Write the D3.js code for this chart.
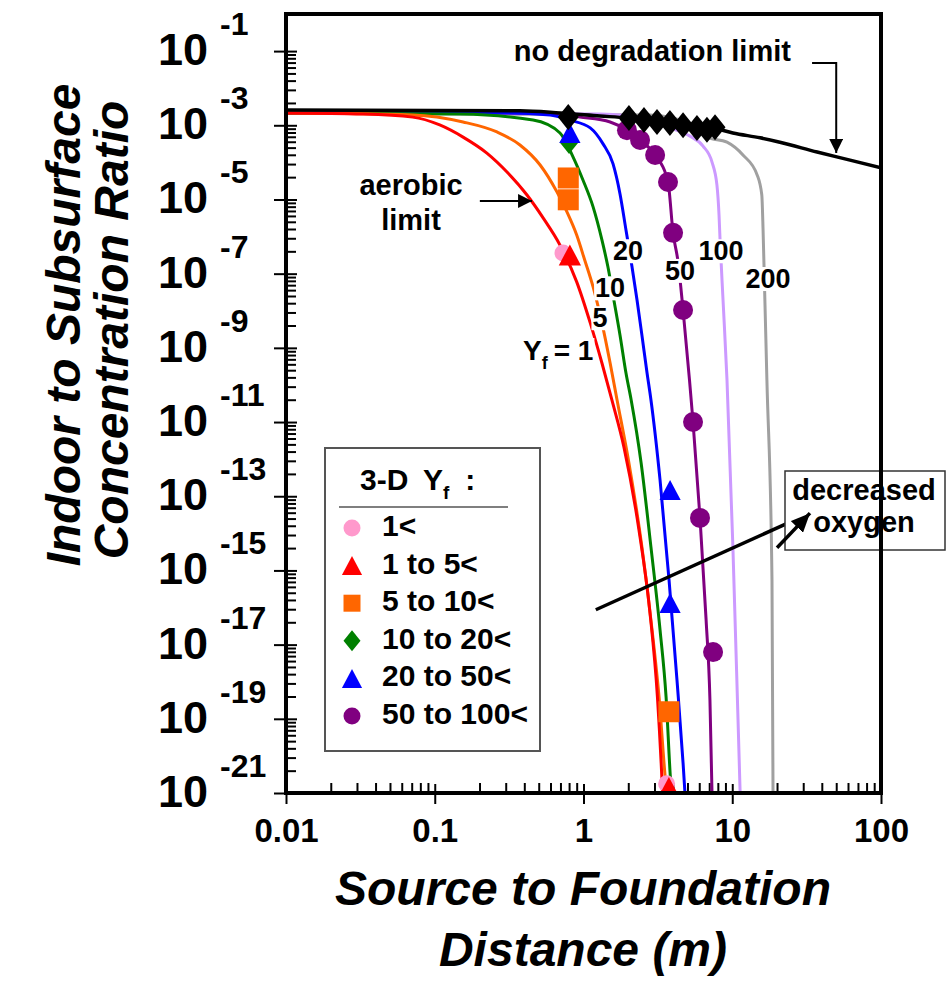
<!DOCTYPE html>
<html>
<head>
<meta charset="utf-8">
<script src="https://cdn.jsdelivr.net/npm/d3@7"></script>
<style>
  body { margin: 0; background: #fff; }
  svg { display: block; font-family: "Liberation Sans", Arial, Helvetica, sans-serif; font-weight: bold; }
</style>
</head>
<body>
<div id="chart"></div>
<script>
// ---- values ----
const xTickValues = [0.01, 0.1, 1, 10, 100];
const xTickLabels = ["0.01", "0.1", "1", "10", "100"];
const yTickValues = [1e-1, 1e-3, 1e-5, 1e-7, 1e-9, 1e-11, 1e-13, 1e-15, 1e-17, 1e-19, 1e-21];
const yTickExponents = ["-1", "-3", "-5", "-7", "-9", "-11", "-13", "-15", "-17", "-19", "-21"];

// model curves: [distance (m), indoor/subsurface ratio]
const noDegradationLimit = [[0.01, 2.57e-3], [0.374, 2.45e-3], [0.695, 2.14e-3], [1.29, 1.78e-3], [1.96, 1.58e-3],
  [3.27, 1.23e-3], [5.45, 8.9e-4], [7.89, 7.9e-4], [10.1, 6.2e-4], [15.4, 4.6e-4], [20.9, 3.5e-4],
  [37.2, 1.9e-4], [61.9, 1.15e-4], [100, 7.1e-5]];
const yf1 = [[0.01, 2.14e-3], [0.033, 2.0e-3], [0.071, 1.66e-3], [0.108, 1.02e-3], [0.155, 4.8e-4],
  [0.224, 1.78e-4], [0.306, 5.5e-5], [0.417, 1.32e-5], [0.535, 3.2e-6], [0.695, 5.9e-7], [0.90, 6.0e-8],
  [1.11, 4.7e-9], [1.33, 3.9e-10], [1.55, 4.0e-11], [1.87, 2.1e-12], [2.36, 1.23e-14], [2.80, 7.1e-17],
  [3.14, 3.9e-19], [3.37, 2.2e-21], [3.40, 1e-21]];
const yf5 = [[0.01, 2.14e-3], [0.071, 1.9e-3], [0.155, 1.23e-3], [0.262, 6.6e-4], [0.374, 2.95e-4],
  [0.511, 8.5e-5], [0.664, 1.58e-5], [0.774, 4.6e-6], [0.90, 1.1e-6], [1.02, 2.3e-7], [1.16, 4.4e-8],
  [1.33, 4.7e-9], [1.51, 3.9e-10], [1.68, 4.0e-11], [2.02, 7.9e-13], [2.47, 4.3e-15], [2.89, 2.5e-17],
  [3.22, 3.9e-19], [3.56, 2.2e-21], [3.64, 1e-21]];
const yf10 = [[0.01, 2.14e-3], [0.148, 2.0e-3], [0.458, 1.38e-3], [0.695, 6.2e-4], [0.85, 1.41e-4],
  [0.99, 3.4e-5], [1.16, 6.3e-6], [1.33, 8.1e-7], [1.46, 1.51e-7], [1.60, 1.95e-8], [1.76, 2.2e-9],
  [1.93, 2.1e-10], [2.09, 4.0e-11], [2.44, 7.9e-13], [2.84, 4.3e-15], [3.27, 2.5e-17], [3.59, 3.9e-19],
  [3.85, 2.2e-21], [3.91, 1e-21]];
const yf20 = [[0.01, 2.14e-3], [0.275, 2.14e-3], [0.596, 1.9e-3], [0.81, 1.38e-3], [1.11, 8.5e-4],
  [1.35, 3.2e-4], [1.58, 9.1e-5], [1.76, 1.41e-5], [1.93, 1.51e-6], [2.12, 1.51e-7], [2.29, 1.95e-8],
  [2.47, 2.2e-9], [2.67, 2.2e-10], [2.84, 4.0e-11], [3.27, 2.75e-13], [3.76, 5.5e-16], [4.25, 1.12e-18],
  [4.67, 6.5e-21], [4.81, 1e-21]];
const yf50 = [[0.01, 2.14e-3], [0.511, 2.14e-3], [0.946, 1.66e-3], [1.51, 1.23e-3], [1.96, 7.4e-4],
  [2.40, 4.0e-4], [3.03, 1.58e-4], [3.70, 2.95e-5], [4.00, 1.26e-6], [4.32, 2.1e-7], [4.67, 1.05e-8],
  [5.16, 1.35e-10], [5.45, 1.0e-11], [6.07, 2.6e-14], [6.67, 4.7e-17], [7.08, 3.2e-19], [7.31, 1e-21]];
const yf100 = [[0.01, 2.14e-3], [1.29, 2.0e-3], [2.80, 1.38e-3], [3.82, 8.5e-4], [5.20, 5.1e-4],
  [6.36, 2.75e-4], [7.31, 1.02e-4], [7.89, 2.45e-5], [8.15, 3.8e-6], [8.28, 8.1e-7], [8.67, 1.95e-8],
  [9.22, 1.35e-10], [10.1, 4.3e-15], [10.9, 1.45e-19], [11.3, 1e-21]];
const yf200 = [[0.01, 2.14e-3], [2.80, 1.9e-3], [5.20, 1.1e-3], [6.76, 4.8e-4], [9.22, 3.5e-4],
  [11.8, 1.58e-4], [14.7, 4.6e-5], [15.8, 1.32e-5], [16.1, 1.7e-6], [16.3, 2.6e-7], [17.1, 1.35e-10],
  [18.5, 5.5e-16], [18.8, 1e-21]];

// 3-D simulation points, grouped by Yf range
const pts1 = [[0.728, 3.6e-7], [3.62, 1.78e-21]];
const pts1to5 = [[0.81, 3.2e-7], [3.75, 1.41e-21]];
const pts5to10 = [[0.79, 3.8e-5], [0.79, 9.8e-6], [3.75, 1.55e-19]];
const pts10to20 = [[0.80, 3.5e-4]];
const pts20to50 = [[0.81, 6.2e-4], [3.82, 1.48e-13], [3.82, 1.32e-16]];
const pts50to100 = [[1.96, 7.4e-4], [2.40, 4.0e-4], [3.03, 1.58e-4], [3.70, 2.95e-5], [4.00, 1.26e-6],
  [4.67, 1.05e-8], [5.45, 1.0e-11], [6.07, 2.6e-14], [7.43, 6.3e-18]];
const ptsNoDeg = [[0.79, 1.66e-3], [2.02, 1.58e-3], [2.55, 1.38e-3], [3.12, 1.23e-3], [3.81, 1.15e-3],
  [4.67, 1.0e-3], [5.79, 8.5e-4], [6.76, 7.6e-4], [7.66, 8.9e-4]];

const legendLabels = ["1<", "1 to 5<", "5 to 10<", "10 to 20<", "20 to 50<", "50 to 100<"];

// curve labels: text, x, y (baseline)
const curveLabelText = ["5", "10", "20", "50", "100", "200"];
const curveLabelX = [1.29, 1.51, 1.99, 4.45, 8.4, 17.4];
const curveLabelY = [3.6e-9, 2.3e-8, 2.3e-7, 6.8e-8, 2.3e-7, 4.1e-8];

// ---- layout ----
const W = 952, H = 997;
const plot = { left: 286, right: 881, top: 14, bottom: 793 };

const x = d3.scaleLog().domain([0.01, 100]).range([plot.left, plot.right]);
const y = d3.scaleLog().domain([1e-21, 1]).range([plot.bottom, plot.top]);

const svg = d3.select("#chart").append("svg").attr("width", W).attr("height", H);

const defs = svg.append("defs");
defs.append("clipPath").attr("id", "plotClip")
  .append("rect")
  .attr("x", plot.left).attr("y", plot.top)
  .attr("width", plot.right - plot.left).attr("height", plot.bottom - plot.top);

function arrowMarker(id, len, half) {
  defs.append("marker")
    .attr("id", id)
    .attr("markerUnits", "userSpaceOnUse")
    .attr("viewBox", `0 ${-half} ${len} ${2 * half}`)
    .attr("markerWidth", len).attr("markerHeight", 2 * half)
    .attr("refX", len).attr("refY", 0)
    .attr("orient", "auto")
    .append("path")
    .attr("d", `M0,${-half}L${len},0L0,${half}Z`)
    .attr("fill", "#000");
}
arrowMarker("arrowSmall", 14, 7);
arrowMarker("arrowBig", 19, 8.5);

// ---- axes ----
const minorX = [];
[-2, -1, 0, 1].forEach(p => { for (let k = 2; k <= 9; k++) minorX.push(k * Math.pow(10, p)); });
// y axis uses 2-decade major steps, minor ticks at k^2 of the lower major
const minorY = [];
yTickValues.slice(1).forEach(v => { for (let k = 2; k <= 9; k++) minorY.push(v * k * k); });

const gxMinor = svg.append("g").attr("transform", `translate(0,${plot.bottom})`)
  .call(d3.axisTop(x).tickValues(minorX).tickSize(10).tickFormat(""));
gxMinor.select(".domain").remove();
gxMinor.selectAll(".tick line").attr("stroke-width", 2);

const gx = svg.append("g").attr("transform", `translate(0,${plot.bottom})`)
  .call(d3.axisBottom(x).tickValues(xTickValues).tickSize(11).tickFormat((d, i) => xTickLabels[i]));
gx.select(".domain").remove();
gx.selectAll(".tick line").attr("y1", -9).attr("stroke-width", 2);
gx.selectAll(".tick text")
  .attr("y", 49).attr("dy", null)
  .attr("font-size", 33).attr("font-weight", "bold")
  .attr("font-family", "Liberation Sans, Arial, sans-serif").attr("fill", "#000");

const gyMinor = svg.append("g").attr("transform", `translate(${plot.left},0)`)
  .call(d3.axisRight(y).tickValues(minorY).tickSize(10).tickFormat(""));
gyMinor.select(".domain").remove();
gyMinor.selectAll(".tick line").attr("stroke-width", 2);

const gy = svg.append("g").attr("transform", `translate(${plot.left},0)`)
  .call(d3.axisLeft(y).tickValues(yTickValues).tickSize(12).tickFormat(""));
gy.select(".domain").remove();
gy.selectAll(".tick line").attr("x1", 11).attr("stroke-width", 2);

const yLab = svg.append("g").selectAll("g").data(yTickValues).join("g");
yLab.append("text")
  .attr("x", 208).attr("y", d => y(d) + 14)
  .attr("text-anchor", "end").attr("font-size", 45)
  .text("10");
yLab.append("text")
  .attr("x", 220).attr("y", d => y(d) - 16)
  .attr("font-size", 32)
  .text((d, i) => yTickExponents[i]);

// ---- curves ----
const line = d3.line().x(d => x(d[0])).y(d => y(d[1])).curve(d3.curveMonotoneX);
const curves = [
  { data: yf200, color: "#a0a0a0", w: 3 },
  { data: yf100, color: "#cc99ff", w: 3 },
  { data: yf50, color: "#800080", w: 3 },
  { data: yf20, color: "#0000ff", w: 3 },
  { data: yf10, color: "#008000", w: 3 },
  { data: yf5, color: "#ff6600", w: 3 },
  { data: yf1, color: "#ff0000", w: 3 },
  { data: noDegradationLimit, color: "#000", w: 3.5 }
];
svg.append("g").attr("clip-path", "url(#plotClip)")
  .selectAll("path").data(curves).join("path")
  .attr("d", d => line(d.data))
  .attr("fill", "none")
  .attr("stroke", d => d.color)
  .attr("stroke-width", d => d.w)
  .attr("stroke-linejoin", "round");

// ---- marker shapes ----
const shapes = {
  circle: (s) => d3.arc()({ innerRadius: 0, outerRadius: s / 2, startAngle: 0, endAngle: 2 * Math.PI }),
  triangle: (s) => `M0,${-s / 2}L${s * 0.53},${s / 2}L${-s * 0.53},${s / 2}Z`,
  square: (s) => `M${-s / 2},${-s / 2}h${s}v${s}h${-s}Z`,
  diamond: (s) => `M0,${-s * 0.62}L${s / 2},0L0,${s * 0.62}L${-s / 2},0Z`
};

const pointSets = [
  { data: pts1, shape: "circle", size: 17, color: "#ff99cc" },
  { data: pts1to5, shape: "triangle", size: 21, color: "#ff0000" },
  { data: pts5to10, shape: "square", size: 21, color: "#ff6600" },
  { data: pts10to20, shape: "diamond", size: 19, color: "#008000" },
  { data: pts20to50, shape: "triangle", size: 20, color: "#0000ff" },
  { data: pts50to100, shape: "circle", size: 20, color: "#800080" },
  { data: ptsNoDeg, shape: "diamond", size: 21, color: "#000" }
];

const gPts = svg.append("g").attr("clip-path", "url(#plotClip)");
pointSets.forEach(set => {
  gPts.append("g").selectAll("path").data(set.data).join("path")
    .attr("transform", d => `translate(${x(d[0])},${y(d[1])})`)
    .attr("d", shapes[set.shape](set.size))
    .attr("fill", set.color);
});

// ---- curve labels with white backing ----
function backed(g) {
  const t = g.select("text").node().getBBox();
  g.insert("rect", "text")
    .attr("x", t.x - 1).attr("y", t.y + 3)
    .attr("width", t.width + 2).attr("height", t.height - 6)
    .attr("fill", "#fff");
}
curveLabelText.forEach((txt, i) => {
  const g = svg.append("g");
  g.append("text")
    .attr("x", x(curveLabelX[i])).attr("y", y(curveLabelY[i]))
    .attr("text-anchor", "middle").attr("font-size", 27)
    .text(txt);
  backed(g);
});
{
  const g = svg.append("g");
  const t = g.append("text").attr("x", x(0.392)).attr("y", y(4.7e-10)).attr("font-size", 28);
  t.append("tspan").text("Y");
  t.append("tspan").attr("dy", 9).attr("font-size", 18).text("f");
  t.append("tspan").attr("dy", -9).attr("dx", 6).text("= 1");
  backed(g);
}

// ---- annotations ----
svg.append("text").attr("x", x(24.8)).attr("y", y(0.055))
  .attr("text-anchor", "end").attr("font-size", 29)
  .text("no degradation limit");
svg.append("path")
  .attr("d", d3.line().x(d => x(d[0])).y(d => y(d[1])).curve(d3.curveLinear)(
    [[34.4, 0.048], [50, 0.048], [50, 1.8e-4]]))
  .attr("fill", "none").attr("stroke", "#000").attr("stroke-width", 2)
  .attr("marker-end", "url(#arrowSmall)");

svg.append("text").attr("x", 411).attr("y", 195)
  .attr("text-anchor", "middle").attr("font-size", 29).text("aerobic");
svg.append("text").attr("x", 411).attr("y", 230)
  .attr("text-anchor", "middle").attr("font-size", 29).text("limit");
svg.append("line")
  .attr("x1", x(0.201)).attr("y1", y(9.1e-6))
  .attr("x2", x(0.451)).attr("y2", y(9.1e-6))
  .attr("stroke", "#000").attr("stroke-width", 2)
  .attr("marker-end", "url(#arrowSmall)");

// decreased oxygen box and arrow
svg.append("line")
  .attr("x1", x(1.21)).attr("y1", y(8.7e-17))
  .attr("x2", x(33.3)).attr("y2", y(3.5e-14))
  .attr("stroke", "#000").attr("stroke-width", 3.5)
  .attr("marker-end", "url(#arrowBig)");
svg.append("rect").attr("x", 785).attr("y", 471).attr("width", 160).attr("height", 79)
  .attr("fill", "#fff").attr("stroke", "#333").attr("stroke-width", 1.5);
svg.append("text").attr("x", 864).attr("y", 500).attr("text-anchor", "middle")
  .attr("font-size", 29).text("decreased");
svg.append("text").attr("x", 864).attr("y", 532).attr("text-anchor", "middle")
  .attr("font-size", 29).text("oxygen");
// redraw arrow head over the box edge
svg.append("line")
  .attr("x1", x(20)).attr("y1", y(4.1e-15))
  .attr("x2", x(33.3)).attr("y2", y(3.5e-14))
  .attr("stroke", "#000").attr("stroke-width", 3.5)
  .attr("marker-end", "url(#arrowBig)");

// ---- legend ----
const lg = svg.append("g");
lg.append("rect").attr("x", 325).attr("y", 448).attr("width", 215).attr("height", 303)
  .attr("fill", "#fff").attr("stroke", "#555").attr("stroke-width", 2);
lg.append("text").attr("x", 360).attr("y", 490).attr("font-size", 30).text("3-D");
const hdr = lg.append("text").attr("x", 423).attr("y", 490).attr("font-size", 30);
hdr.append("tspan").text("Y");
hdr.append("tspan").attr("dy", 9).attr("font-size", 19).text("f");
hdr.append("tspan").attr("dy", -9).attr("dx", 16).text(":");
lg.append("line").attr("x1", 339).attr("x2", 508).attr("y1", 507).attr("y2", 507)
  .attr("stroke", "#555").attr("stroke-width", 1.5);

const legendSizes = [17, 19, 17, 17, 19, 17];
legendLabels.forEach((lab, i) => {
  const cy = 528 + i * 37.6;
  const set = pointSets[i];
  lg.append("path")
    .attr("transform", `translate(352,${cy})`)
    .attr("d", shapes[set.shape](legendSizes[i]))
    .attr("fill", set.color);
  lg.append("text").attr("x", 382).attr("y", cy + 8).attr("font-size", 30).text(lab);
});

// ---- frame ----
svg.append("rect")
  .attr("x", plot.left).attr("y", plot.top)
  .attr("width", plot.right - plot.left).attr("height", plot.bottom - plot.top)
  .attr("fill", "none").attr("stroke", "#000").attr("stroke-width", 4);

// ---- axis titles ----
svg.append("text").attr("transform", "translate(80,325) rotate(-90)")
  .attr("text-anchor", "middle").attr("font-size", 48).attr("font-style", "italic")
  .text("Indoor to Subsurface");
svg.append("text").attr("transform", "translate(128,330) rotate(-90)")
  .attr("text-anchor", "middle").attr("font-size", 48).attr("font-style", "italic")
  .text("Concentration Ratio");
svg.append("text").attr("x", 583).attr("y", 905)
  .attr("text-anchor", "middle").attr("font-size", 48).attr("font-style", "italic")
  .text("Source to Foundation");
svg.append("text").attr("x", 583).attr("y", 966)
  .attr("text-anchor", "middle").attr("font-size", 48).attr("font-style", "italic")
  .text("Distance (m)");
</script>
</body>
</html>
